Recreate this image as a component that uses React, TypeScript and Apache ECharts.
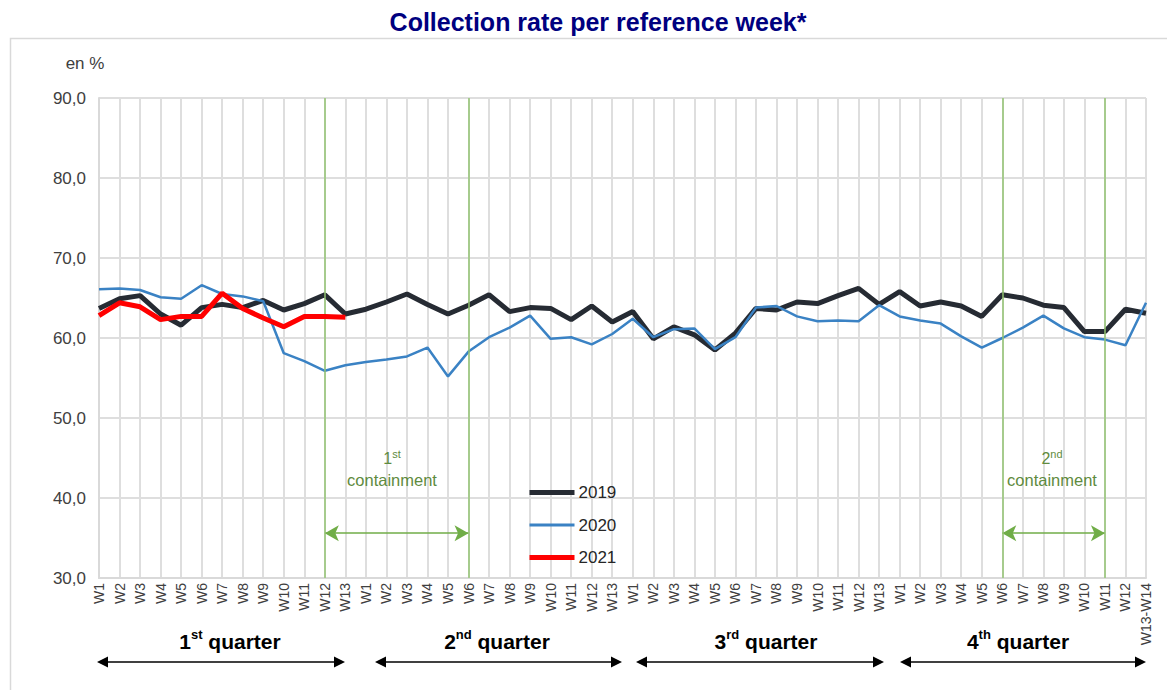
import React, { useEffect, useRef } from "react";
import * as echarts from "echarts";

const quarterWeeks = ["W1", "W2", "W3", "W4", "W5", "W6", "W7", "W8", "W9", "W10", "W11", "W12", "W13"];
const lastQuarterWeeks = ["W1", "W2", "W3", "W4", "W5", "W6", "W7", "W8", "W9", "W10", "W11", "W12", "W13-W14"];
const categories = [...quarterWeeks, ...quarterWeeks, ...quarterWeeks, ...lastQuarterWeeks];

const yTicks = { min: 30, max: 90, interval: 10 };

const values2019 = [
  63.7, 64.9, 65.3, 63.0, 61.6, 63.8, 64.2, 63.8, 64.7, 63.5, 64.3, 65.4, 63.0,
  63.6, 64.5, 65.5, 64.2, 63.0, 64.1, 65.4, 63.3, 63.8, 63.7, 62.3, 64.0, 62.0,
  63.3, 59.9, 61.4, 60.4, 58.5, 60.6, 63.7, 63.5, 64.5, 64.3, 65.3, 66.2, 64.2,
  65.8, 64.0, 64.5, 64.0, 62.7, 65.4, 65.0, 64.1, 63.8, 60.8, 60.8, 63.6, 63.1,
];
const values2020 = [
  66.1, 66.2, 66.0, 65.1, 64.9, 66.6, 65.5, 65.2, 64.6, 58.1, 57.1, 55.9, 56.6,
  57.0, 57.3, 57.7, 58.8, 55.2, 58.3, 60.1, 61.3, 62.8, 59.9, 60.1, 59.2, 60.5,
  62.4, 60.1, 61.1, 61.2, 58.6, 60.1, 63.8, 64.0, 62.7, 62.1, 62.2, 62.1, 64.1,
  62.7, 62.2, 61.8, 60.2, 58.8, 60.0, 61.3, 62.8, 61.2, 60.1, 59.8, 59.1, 64.4,
];
const values2021 = [62.8, 64.4, 63.9, 62.3, 62.7, 62.7, 65.6, 63.7, 62.5, 61.4, 62.7, 62.7, 62.6];

// containment periods: [start index, end index]
const containments = [
  { sup: "st", num: "1", start: 11, end: 18 },
  { sup: "nd", num: "2", start: 44, end: 49 },
];
const arrowLevel = 35.6;

const quarters = [
  { num: "1", sup: "st" },
  { num: "2", sup: "nd" },
  { num: "3", sup: "rd" },
  { num: "4", sup: "th" },
];

const FONT = "'Liberation Sans', Arial, sans-serif";
const GREEN_LINE = "#93c572";
const GREEN_ARROW = "#70ad47";
const GREEN_TEXT = "#5f8b40";
const C2019 = "#262b33";
const C2020 = "#3a82c4";
const C2021 = "#ff0000";

function doubleArrow(x1: number, x2: number, y: number, color: string) {
  const h = 11;
  const w = 5.5;
  return {
    type: "group",
    children: [
      { type: "line", shape: { x1: x1 + 4, y1: y, x2: x2 - 4, y2: y }, style: { stroke: color, lineWidth: 1.5 } },
      { type: "polygon", shape: { points: [[x1, y], [x1 + h, y - w], [x1 + h, y + w]] }, style: { fill: color } },
      { type: "polygon", shape: { points: [[x2, y], [x2 - h, y - w], [x2 - h, y + w]] }, style: { fill: color } },
    ],
  };
}

export default function App() {
  const ref = useRef<HTMLDivElement>(null);
  useEffect(() => {
    document.body.style.margin = "0";
    const chart = echarts.init(ref.current!, undefined, { renderer: "svg" });

    const qx = [230, 497, 766, 1018];
    const qArrows = [
      [97, 345],
      [375, 622],
      [636, 884],
      [900, 1146],
    ];
    const contCenters = [392, 1052];

    const graphic: any[] = [
      {
        type: "rect",
        shape: { x: 10.5, y: 38.5, width: 1200, height: 700 },
        style: { fill: "none", stroke: "#d9d9d9", lineWidth: 1.5 },
        z: -10,
      },
      {
        type: "text",
        x: 598,
        y: 22,
        style: {
          text: "Collection rate per reference week*",
          font: `bold 25px ${FONT}`,
          fill: "#00007f",
          align: "center",
          verticalAlign: "middle",
        },
      },
      {
        type: "text",
        x: 85,
        y: 63,
        style: { text: "en %", font: `17px ${FONT}`, fill: "#404040", align: "center", verticalAlign: "middle" },
      },
    ];
    quarters.forEach((q, i) => {
      graphic.push({
        type: "text",
        x: qx[i],
        y: 640,
        style: {
          text: `{n|${q.num}}{s|${q.sup}}{n| quarter}`,
          align: "center",
          verticalAlign: "middle",
          rich: {
            n: { font: `bold 21px ${FONT}`, fill: "#000", verticalAlign: "bottom", lineHeight: 24 },
            s: { font: `bold 13px ${FONT}`, fill: "#000", verticalAlign: "top", lineHeight: 24, padding: [0, 0, 10, 0] },
          },
        },
      });
      graphic.push(doubleArrow(qArrows[i][0], qArrows[i][1], 662, "#000"));
    });
    containments.forEach((c, i) => {
      graphic.push({
        type: "text",
        x: contCenters[i],
        y: 458,
        z: 20,
        style: {
          text: `{n|${c.num}}{s|${c.sup}}`,
          align: "center",
          verticalAlign: "middle",
          rich: {
            n: { font: `16px ${FONT}`, fill: GREEN_TEXT, lineHeight: 18 },
            s: { font: `11px ${FONT}`, fill: GREEN_TEXT, lineHeight: 18, padding: [0, 0, 8, 0] },
          },
        },
      });
      graphic.push({
        type: "text",
        x: contCenters[i],
        y: 480,
        z: 20,
        style: { text: "containment", font: `16.5px ${FONT}`, fill: GREEN_TEXT, align: "center", verticalAlign: "middle" },
      });
    });

    const verticalLines: any[] = [];
    const arrowLines: any[] = [];
    containments.forEach((c) => {
      verticalLines.push({ xAxis: c.start });
      verticalLines.push({ xAxis: c.end });
      arrowLines.push([{ coord: [c.start, arrowLevel] }, { coord: [c.end, arrowLevel] }]);
    });

    chart.setOption({
      animation: false,
      textStyle: { fontFamily: FONT },
      graphic,
      legend: {
        orient: "vertical",
        left: 527,
        top: 484,
        padding: 0,
        itemWidth: 45,
        itemHeight: 14,
        itemGap: 15.5,
        itemStyle: { opacity: 0 },
        textStyle: { fontSize: 17, color: "#262626", fontFamily: FONT, padding: [0, 0, 0, -1] },
        data: [
          { name: "2019", lineStyle: { width: 5, color: C2019 } },
          { name: "2020", lineStyle: { width: 3, color: C2020 } },
          { name: "2021", lineStyle: { width: 5, color: C2021 } },
        ],
      },
      grid: { left: 99, right: 21, top: 98, bottom: 112, containLabel: false },
      xAxis: {
        type: "category",
        data: categories,
        boundaryGap: false,
        axisLine: { show: true, lineStyle: { color: "#d9d9d9", width: 2 } },
        axisTick: { show: false },
        splitLine: { show: true, lineStyle: { color: "#dedede", width: 2 } },
        axisLabel: { interval: 0, rotate: 90, fontSize: 14, color: "#404040", margin: 5, fontFamily: FONT },
      },
      yAxis: {
        type: "value",
        min: yTicks.min,
        max: yTicks.max,
        interval: yTicks.interval,
        axisLine: { show: true, lineStyle: { color: "#d9d9d9", width: 2 } },
        axisTick: { show: false },
        splitLine: { show: true, lineStyle: { color: "#dedede", width: 2 } },
        axisLabel: {
          fontSize: 17,
          color: "#404040",
          margin: 13,
          fontFamily: FONT,
          formatter: (v: number) => v.toFixed(1).replace(".", ","),
        },
      },
      series: [
        {
          name: "2019",
          type: "line",
          data: values2019,
          symbol: "none",
          lineStyle: { color: C2019, width: 5 },
          itemStyle: { color: C2019 },
          z: 3,
          markLine: {
            silent: true,
            symbol: ["arrow", "arrow"],
            symbolSize: [12, 14],
            label: { show: false },
            lineStyle: { color: GREEN_ARROW, width: 1.5, type: "solid" },
            data: arrowLines,
          },
        },
        {
          name: "2020",
          type: "line",
          data: values2020,
          symbol: "none",
          lineStyle: { color: C2020, width: 2.5 },
          itemStyle: { color: C2020 },
          z: 4,
          markLine: {
            silent: true,
            symbol: ["none", "none"],
            label: { show: false },
            lineStyle: { color: GREEN_LINE, width: 1.5, type: "solid" },
            data: verticalLines,
          },
        },
        {
          name: "2021",
          type: "line",
          data: values2021,
          symbol: "none",
          lineStyle: { color: C2021, width: 5 },
          itemStyle: { color: C2021 },
          z: 5,
        },
      ],
    });
    return () => chart.dispose();
  }, []);
  return <div ref={ref} style={{ width: 1167, height: 690 }} />;
}
